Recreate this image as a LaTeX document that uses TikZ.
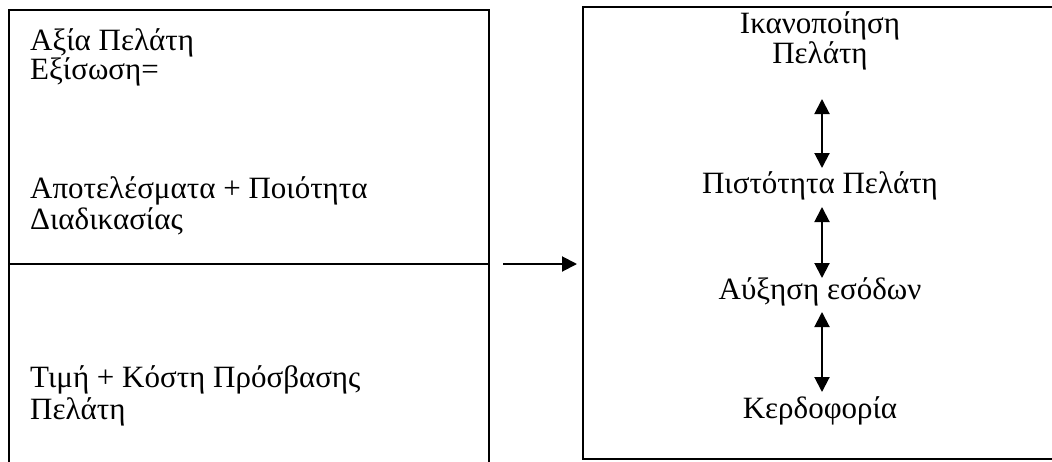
\documentclass[tikz,border=0pt]{standalone}
\usepackage{fontspec}
\setmainfont{Liberation Serif}
\usetikzlibrary{arrows.meta}
\begin{document}
\begin{tikzpicture}[x=1pt,y=-1pt,
  frame/.style={line width=2pt,black},
  txt/.style={font=\fontsize{31}{30}\selectfont,inner sep=0pt,anchor=base west},
  ctxt/.style={font=\fontsize{31}{30}\selectfont,inner sep=0pt,anchor=base},
  onearrow/.style={line width=2pt,-{Triangle[width=15pt,length=15pt]}},
  twoarrow/.style={line width=2pt,{Triangle[width=15pt,length=15pt]}-{Triangle[width=15pt,length=15pt]}}]
\useasboundingbox (0,0) rectangle (1052,461);
\fill[white] (0,0) rectangle (1052,461);
% left box (open at bottom)
\draw[frame] (9,470) -- (9,10) -- (489,10) -- (489,470);
\draw[line width=2pt] (9,264) -- (489,264);
% right box (open at right)
\draw[frame] (1060,7) -- (583,7) -- (583,459) -- (1060,459);
% left texts
\node[txt] (t1) at (30,50) {Αξία Πελάτη};
\node[txt] (t2) at (30,79) {Εξίσωση=};
\node[txt] (t3) at (30,198) {Αποτελέσματα + Ποιότητα};
\node[txt] (t4) at (30,229) {Διαδικασίας};
\node[txt] (t5) at (30,387) {Τιμή + Κόστη Πρόσβασης};
\node[txt] (t6) at (30,419) {Πελάτη};
% transition arrow
\coordinate (a0) at (503,264);
\coordinate (a1) at (577,264);
\draw[onearrow] (a0) -- (a1);
% right texts
\node[ctxt] (r1) at (820,33) {Ικανοποίηση};
\node[ctxt] (r2) at (820,63) {Πελάτη};
\node[ctxt] (r3) at (820,193) {Πιστότητα Πελάτη};
\node[ctxt] (r4) at (820,299) {Αύξηση εσόδων};
\node[ctxt] (r5) at (820,418) {Κερδοφορία};
% double arrows
\coordinate (b1) at (822,99);
\coordinate (b2) at (822,168);
\coordinate (b3) at (822,207);
\coordinate (b4) at (822,278);
\coordinate (b5) at (822,312);
\coordinate (b6) at (822,392);
\draw[twoarrow] (b1) -- (b2);
\draw[twoarrow] (b3) -- (b4);
\draw[twoarrow] (b5) -- (b6);
\end{tikzpicture}
\end{document}
